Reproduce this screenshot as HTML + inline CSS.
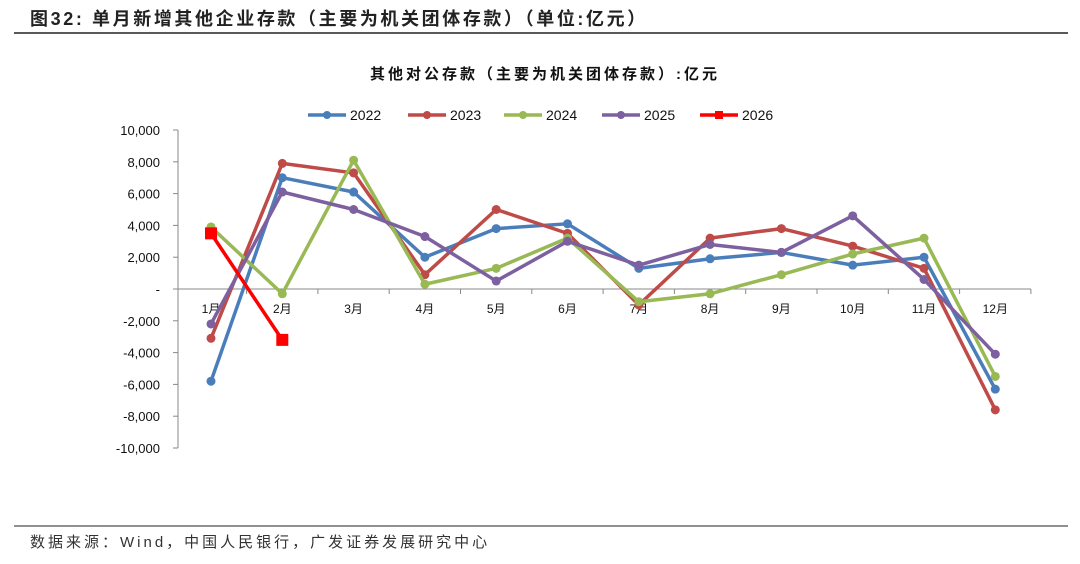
<!DOCTYPE html>
<html><head><meta charset="utf-8"><style>
body{margin:0;background:#fff;width:1080px;height:559px;overflow:hidden;font-family:"Liberation Sans","Noto Sans CJK SC",sans-serif;}
</style></head><body>
<svg width="1080" height="559" xmlns="http://www.w3.org/2000/svg" font-family="Liberation Sans, Noto Sans CJK SC, sans-serif">
<text x="30" y="25" font-size="18" font-weight="bold" fill="#222" letter-spacing="2.6">图32:  单月新增其他企业存款（主要为机关团体存款）（单位:亿元）</text>
<line x1="14" y1="33" x2="1068" y2="33" stroke="#222" stroke-width="1.5"/>
<text x="545" y="79" font-size="15" font-weight="bold" text-anchor="middle" fill="#111" letter-spacing="3">其他对公存款（主要为机关团体存款）:亿元</text>
<g id="legend"></g>
<g id="axes"></g>
<g id="plot"></g>
<line x1="14" y1="526" x2="1068" y2="526" stroke="#222" stroke-width="1"/>
<text x="30" y="547" font-size="15" fill="#333" letter-spacing="3">数据来源：Wind，中国人民银行，广发证券发展研究中心</text>
</svg>
<script>
const months=["1月","2月","3月","4月","5月","6月","7月","8月","9月","10月","11月","12月"];
const yTicks=[10000,8000,6000,4000,2000,0,-2000,-4000,-6000,-8000,-10000];
const yTickLabels=["10,000","8,000","6,000","4,000","2,000","-","-2,000","-4,000","-6,000","-8,000","-10,000"];
const seriesNames=["2022","2023","2024","2025","2026"];
const v2022=[-5800,7000,6100,2000,3800,4100,1300,1900,2300,1500,2000,-6300];
const v2023=[-3100,7900,7300,900,5000,3500,-1000,3200,3800,2700,1300,-7600];
const v2024=[3900,-300,8100,300,1300,3200,-800,-300,900,2200,3200,-5500];
const v2025=[-2200,6100,5000,3300,500,3000,1500,2800,2300,4600,600,-4100];
const v2026=[3500,-3200];
const colors=["#4a7ebb","#be4b48","#98b954","#7d60a0","#ff0000"];
const NS="http://www.w3.org/2000/svg";
const x=i=>211+i*71.3;
const y=v=>289-v*0.01590;
function mk(tag,attrs,parent,txt){const e=document.createElementNS(NS,tag);for(const k in attrs)e.setAttribute(k,attrs[k]);if(txt!==undefined)e.textContent=txt;parent.appendChild(e);return e;}
const axes=document.getElementById('axes'),plot=document.getElementById('plot'),leg=document.getElementById('legend');
let a=mk('line',{x1:178,y1:y(10000),x2:178,y2:y(-10000),stroke:'#888'},axes);


yTicks.forEach((t,i)=>{
 mk('line',{x1:173,y1:y(t),x2:178,y2:y(t),stroke:'#888'},axes);
 const l=mk('text',{x:160,y:y(t)+5,'font-size':13,'text-anchor':'end',fill:'#111'},axes,yTickLabels[i]);
 
 
});
a=mk('line',{x1:178,y1:y(0),x2:1031,y2:y(0),stroke:'#888'},axes);


months.forEach((m,i)=>{
 mk('line',{x1:x(i)+35.6,y1:y(0),x2:x(i)+35.6,y2:y(0)+5,stroke:'#888'},axes);
 const l=mk('text',{x:x(i),y:y(0)+24,'font-size':12,'text-anchor':'middle',fill:'#111'},axes,m);
 
 
});
const all=[v2022,v2023,v2024,v2025,v2026];
all.forEach((vals,s)=>{
 const g=mk('g',{},plot);
 
 
 const pts=vals.map((v,i)=>x(i)+','+y(v)).join(' ');
 mk('polyline',{points:pts,fill:'none',stroke:colors[s],'stroke-width':3.5,'stroke-linejoin':'round'},g);
 vals.forEach((v,i)=>{
  let p;
  if(s==4)p=mk('rect',{x:x(i)-6,y:y(v)-6,width:12,height:12,fill:colors[s]},g);
  else p=mk('circle',{cx:x(i),cy:y(v),r:4.5,fill:colors[s]},g);
  
  
 });
});
const lx=[308,408,504,602,700];
seriesNames.forEach((n,s)=>{
 const g=mk('g',{},leg);
 
 
 mk('line',{x1:lx[s],y1:115,x2:lx[s]+38,y2:115,stroke:colors[s],'stroke-width':3.5},g);
 if(s==4)mk('rect',{x:lx[s]+15,y:111,width:8,height:8,fill:colors[s]},g);
 else mk('circle',{cx:lx[s]+19,cy:115,r:4,fill:colors[s]},g);
 mk('text',{x:lx[s]+42,y:120,'font-size':14,fill:'#111'},g,n);
});
</script>
</body></html>
